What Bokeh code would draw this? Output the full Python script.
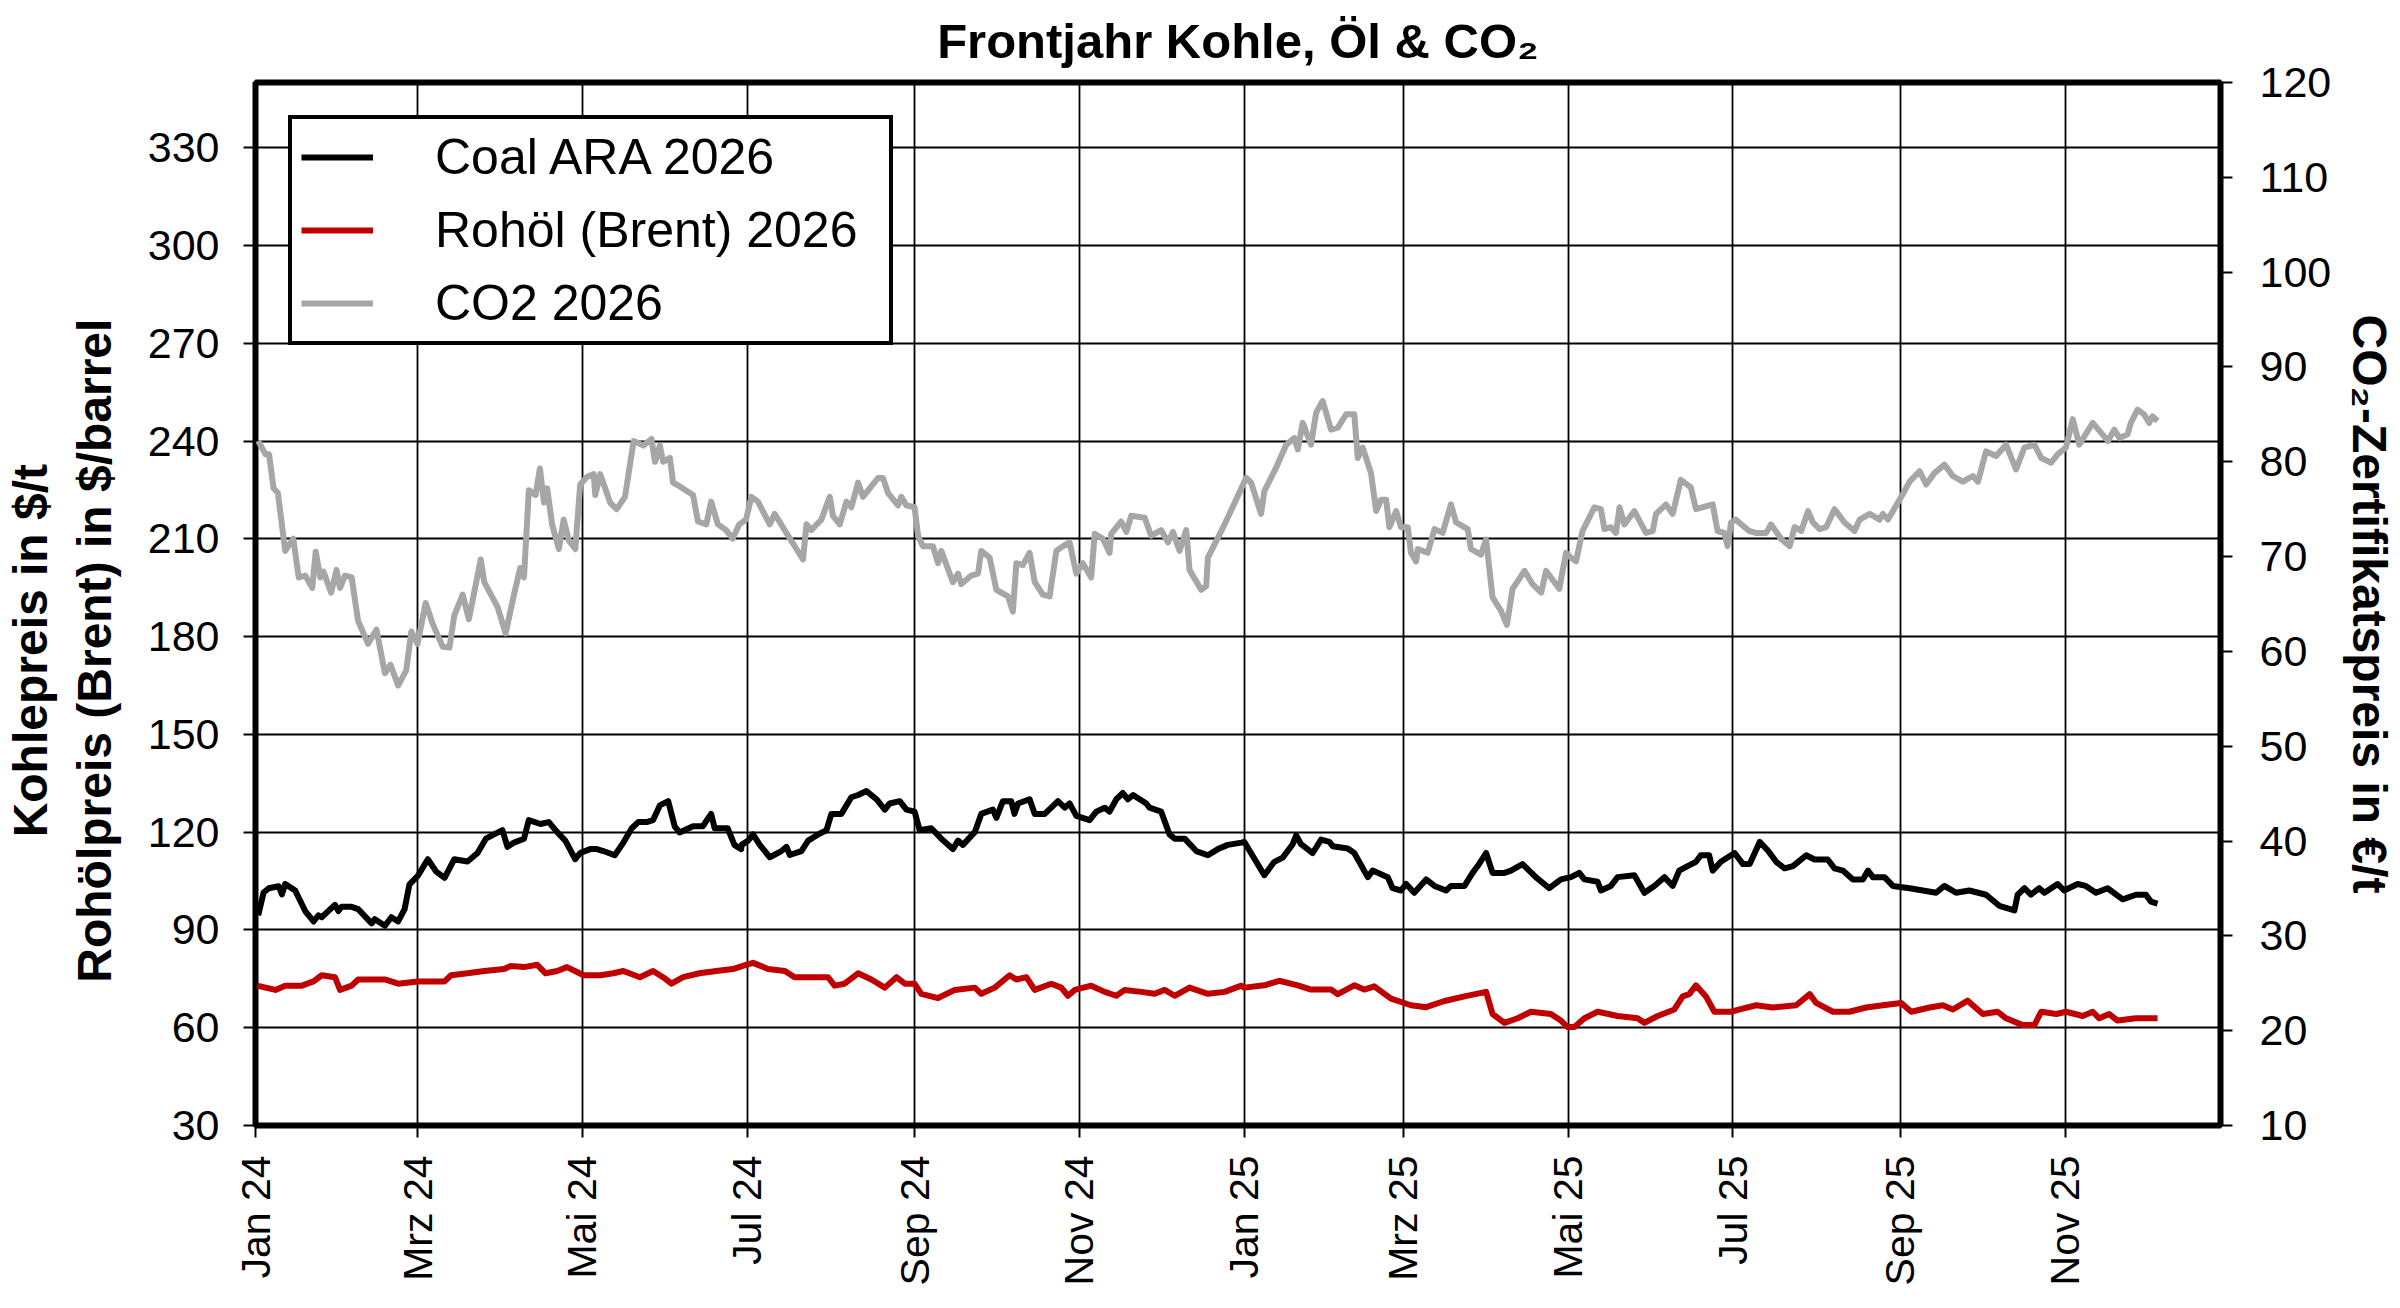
import math
import pandas as pd
from bokeh.plotting import figure
from bokeh.models import Range1d, LinearAxis, FixedTicker, Legend, LegendItem
from bokeh.embed import file_html
from bokeh.resources import INLINE

# ---------------- data ----------------
TITLE = "Frontjahr Kohle, Öl & CO₂"
START = "2024-01-01"
X_END = "2025-12-28 12:00"

tick_dates = ["2024-01-01", "2024-03-01", "2024-05-01", "2024-07-01", "2024-09-01", "2024-11-01",
              "2025-01-01", "2025-03-01", "2025-05-01", "2025-07-01", "2025-09-01", "2025-11-01"]
tick_labels = ["Jan 24", "Mrz 24", "Mai 24", "Jul 24", "Sep 24", "Nov 24",
               "Jan 25", "Mrz 25", "Mai 25", "Jul 25", "Sep 25", "Nov 25"]
left_ticks = [30, 60, 90, 120, 150, 180, 210, 240, 270, 300, 330]
right_ticks = [10, 20, 30, 40, 50, 60, 70, 80, 90, 100, 110, 120]

# days since 2024-01-01
coal_day = [1, 3, 4.9, 8.6, 9.8, 11, 14.7, 18.4, 21.5, 23.3, 24.5, 29.4, 30.7, 31.9, 35.6, 38, 43, 44.2, 47.9, 50.3,
            52.8, 55.2, 57, 60.1, 63.8, 66.9, 70, 73.6, 78.5, 82.2, 85.3, 88.3, 91.4, 93.3, 95.7, 99.4, 101.2, 105.5, 108.6, 111.7,
            114.7, 118.4, 120.2, 123.9, 126.4, 128.8, 133, 136.2, 139.3, 141.7, 144.8, 147.2, 149.7, 152.8, 155.2, 157, 162, 165.6, 168.7, 170,
            174.8, 177.3, 179.8,
            180, 182.4, 184.2, 186.7, 190.4, 194.7, 196.6, 197.8, 202.1, 204.6, 208.3, 211.4, 213.2, 216.9, 220.6, 223.1, 226.2, 229.9, 233, 234.8,
            238.5, 241, 244, 245.9, 250.2, 253.9, 258.2, 260.1, 261.9, 266.3, 268.7, 273, 274.3, 276.7, 279.8, 281, 282.3, 286.6, 288.5, 292.2,
            297.1, 299.6, 301.4, 303.9, 308.8, 311.3, 314.4, 316.2, 318.7, 321.1, 323, 324.9, 329.8, 331, 335.3, 338.4, 340.3, 344, 348.3, 352.6,
            356.3, 360, 365,
            366.1, 370.5, 373.5, 377.2, 380.3, 384, 385.3, 387.1, 391.4, 394.5, 397.6, 398.8, 404.4, 406.8, 411.8, 413.6, 419.2, 421, 424.1, 426,
            429, 433.4, 436.5, 440.8, 442.6, 447.6, 450.6, 452.5, 455.6, 458, 462.4, 464.8, 469.1, 474, 479, 483.3, 487, 490.1, 492, 496.9,
            498.1, 501.8, 504.3, 510.5, 514.2, 517.9, 521.6, 524.7, 527.1, 530.2, 533.3, 535.1, 538.2, 539.5, 542.5, 546.3,
            547.6, 550.7, 553.2, 556.9, 560, 563, 566.1, 569.2, 574.1, 577.2, 582.1, 584.6, 587.7, 591.4, 595.1, 597, 598.8, 603.1, 606.2, 612.4,
            617.3, 622.2, 625.3, 629.6, 634.5, 640.7, 645.6, 651.2, 652.4, 654.9, 657.3, 660.4, 662.3, 667.2, 669.6, 674.6, 677.6, 681.4, 685.7, 691.3,
            696.2, 699.9, 701.7, 704.2]
coal_val = [94.5, 101.5, 102.8, 103.4, 100.9, 104.1, 102.1, 95.8, 92.6, 94.5, 93.9, 97.7, 95.8, 97.1, 97.1, 96.4, 92.0, 93.3, 91.3, 93.9,
            92.6, 96.4, 104.0, 106.6, 111.7, 107.9, 106.0, 111.7, 111.0, 113.6, 118.0, 119.3, 120.6, 115.5, 116.8, 118.0, 123.7, 122.5, 123.1, 120.0,
            117.4, 111.7, 113.6, 114.8, 114.8, 114.2, 112.9, 116.8, 121.2, 123.1, 123.1, 123.7, 128.2, 129.5, 121.8, 119.9, 121.8, 121.8, 125.6, 121.2,
            121.2, 116.1, 114.8,
            116.1, 117.4, 119.3, 116.1, 112.3, 114.2, 115.5, 113.0, 114.2, 117.4, 119.3, 120.6, 125.6, 125.6, 130.7, 131.4, 132.6, 130.1, 126.9, 128.8,
            129.5, 126.9, 126.3, 120.6, 121.2, 118.0, 114.8, 117.4, 116.1, 120.0, 125.6, 126.9, 124.4, 129.5, 129.5, 125.6, 128.8, 130.1, 125.6, 125.6,
            129.5, 127.5, 128.8, 125.0, 123.7, 126.3, 127.5, 126.3, 130.1, 132.0, 130.1, 131.4, 128.8, 127.5, 126.3, 119.3, 118.0, 118.0, 114.2, 112.9,
            114.8, 116.1, 116.8,
            117.0, 110.9, 106.8, 110.9, 112.2, 116.3, 119.0, 116.3, 113.6, 117.7, 117.0, 115.7, 115.0, 113.6, 106.2, 108.2, 106.2, 102.8, 102.1, 104.1,
            101.4, 105.5, 103.5, 102.1, 103.5, 103.5, 107.5, 109.6, 113.6, 107.5, 107.5, 108.2, 110.2, 106.2, 102.8, 105.5, 106.2, 107.5, 105.5, 104.8,
            102.1, 103.5, 106.2, 106.8, 101.4, 103.5, 106.2, 103.5, 108.2, 109.6, 110.9, 112.9, 112.9, 108.2, 110.9, 112.9,
            113.6, 110.2, 110.2, 117.0, 114.3, 110.9, 108.9, 109.6, 112.9, 111.6, 111.6, 108.9, 108.2, 105.5, 105.5, 108.2, 106.2, 106.2, 103.5, 102.8,
            102.1, 101.4, 103.5, 101.4, 102.1, 100.8, 97.4, 96.0, 100.8, 102.8, 100.8, 102.8, 101.4, 104.1, 102.1, 104.1, 103.5, 101.4, 102.8, 99.4,
            100.8, 100.8, 98.7, 98.1]

oil_day = [0.6, 3.7, 7.4, 11, 17.2, 21.5, 24.5, 29.4, 31.3, 35.6, 38, 43, 47.9, 52.8, 60.1, 70, 72.4, 78.5, 84.7, 92,
           94.5, 99.4, 104.3, 107.4, 111.7, 115.3, 121.5, 127.6, 132.5, 136.2, 142.3, 147.2, 150.9, 154, 158.3, 164.4, 170.6, 176.7, 181.6,
           184.2, 189.8, 196, 199.6, 205.8, 212, 214.4, 218.1, 223.1, 228, 233, 237.3, 240.4, 244, 246.5, 252.7, 258.9, 266.3, 268.7, 273.7,
           279.2, 281.7, 285.4, 288.5, 294.6, 298.3, 300.8, 303.3, 309.4, 314.4, 318.7, 321.8, 328, 332.9, 336.6, 340.3, 345.8, 352.6, 358.8, 365,
           366.1, 373.5, 379, 385.9, 390.8, 398.2, 400.7, 406.8, 410.5, 414.2, 420.4, 427.8, 433.4, 440.2, 447.6, 455.6, 458, 462.4, 467.3, 472.2,
           479.6, 483.3, 485.8, 488.3, 492, 496.9, 504.3, 511.7, 514.2, 519.1, 525.3, 528.4, 530.8, 533.3, 537, 540.1, 546.3,
           549.5, 555.6, 561.7, 570.4, 575.4, 577.8, 584, 590.1, 596.3, 602.5, 609.3, 613, 619.8, 624.7, 628.4, 633.9, 639.5, 645, 648.1, 654.3,
           658.6, 661.1, 666.7, 670.3, 676.5, 680.2, 682.6, 686.3, 689.4, 696.2, 704.2]
oil_val = [72.9, 72.3, 71.6, 72.9, 72.9, 74.2, 76.1, 75.5, 71.6, 72.9, 74.8, 74.8, 74.8, 73.5, 74.2, 74.2, 76.1, 76.7, 77.4, 78.0,
           78.9, 78.6, 79.3, 76.7, 77.4, 78.6, 76.1, 76.1, 76.7, 77.4, 75.5, 77.4, 75.5, 73.5, 75.5, 76.7, 77.4, 78.0, 79.3,
           79.9, 78.0, 77.4, 75.5, 75.5, 75.5, 72.9, 73.5, 76.7, 74.8, 72.3, 75.5, 73.5, 73.5, 70.4, 69.1, 71.6, 72.3, 70.4, 72.3,
           76.1, 74.8, 75.5, 71.6, 73.5, 72.3, 69.8, 71.6, 72.9, 71.0, 69.8, 71.6, 71.0, 70.4, 71.6, 69.8, 72.3, 70.4, 71.0, 72.9,
           72.3, 73.0, 74.4, 73.0, 71.7, 71.7, 70.3, 73.0, 71.7, 72.7, 68.9, 66.9, 66.3, 68.2, 69.6, 71.0, 64.2, 61.5, 62.9, 64.9,
           64.2, 62.2, 60.2, 60.2, 62.9, 64.9, 63.6, 62.9, 61.5, 63.6, 65.6, 69.6, 70.3, 73.0, 69.6, 64.9, 64.9,
           65.6, 66.9, 66.2, 66.9, 70.3, 67.6, 64.9, 64.9, 66.2, 66.9, 67.6, 64.9, 66.2, 66.9, 65.6, 68.3, 64.2, 64.9, 62.9, 60.8,
           60.8, 64.9, 64.2, 64.9, 63.6, 64.9, 62.9, 64.2, 62.2, 62.9, 62.9]

co2_day = [1, 3.7, 5, 6.7, 8.3, 11, 14, 16, 18.4, 21, 22.3, 24, 25.2, 28, 30, 31.3, 33.1, 35.6, 38, 41.7,
           44.8, 47.9, 50, 52.8, 55.8, 57.7, 60, 63, 65.6, 69.3, 71.8, 73.6, 76.7, 79, 83.4, 84.7, 89.6, 92.6, 95.7, 98,
           99.4, 101.2, 103.7, 105.3, 106.8, 108, 109.8, 112.3, 114.1, 116, 118.4, 120.2, 122.7, 125.2, 125.8, 127.6, 131.3, 133.7, 136.8, 140,
           143.6, 146.6, 147.9, 149.7, 150.9, 153.4, 154.6, 157.1, 162, 163.8, 166.9, 168.7, 171.2, 174.2, 176.7, 179.1, 181.6,
           183.6, 186, 190.4, 192.2, 197.2, 202.7, 204, 205.8, 209.5, 212.6, 213.8, 216.3, 218.8, 220.6, 223.1, 224.9, 230.5, 232.3, 234.2, 237.9,
           239.1, 241, 244, 245.3, 247.1, 250.8, 252.7, 253.9, 258.2, 260.1, 261.3, 265, 267.5, 268.7, 271.8, 274.3, 278.6, 280.4, 281.7, 284.1,
           286.6, 288.5, 291.5, 294, 296.5, 299, 301.4, 303.9, 306.3, 309.4, 310.7, 313.7, 316.2, 316.8, 320.5, 322.4, 324.2, 329.2, 331.6, 335.3,
           337.8, 339.7, 342.1, 344.6, 345.8, 350.1, 352, 352.6, 358.8, 365,
           366.8, 368.6, 372.3, 373.5, 377.9, 381.6, 384.6, 385.9, 387.7, 390.8, 392.7, 395.1, 398.2, 400.7, 403.8, 406.8, 408.1, 409.9, 413, 414.9,
           416.7, 418.6, 419.8, 422.3, 424.1, 426.6, 427.8, 429.7, 430.3, 434, 436.5, 439.5, 442.6, 444.5, 448.8, 450, 453.7, 455.6, 458, 461.1,
           463.3, 465.4, 469.8, 472.8, 476, 477.8, 479.6, 482.7, 485.2, 487, 488.9, 491.3, 495.7, 498.1, 499.4, 501.8, 503.7, 505, 506.8, 510.5,
           514.8, 517.3, 518.5, 522.2, 524.7, 527.7, 531.4, 533.3, 539.5, 541.3, 543.8, 545, 546.3,
           548, 553, 555.5, 559.3, 561.1, 565, 568, 569.8, 572.3, 574.8, 576.6, 579.1, 581.5, 584.6, 588.3, 592, 593.9, 597.6, 601.3, 602.5,
           604.4, 609.3, 612.4, 616.1, 618.5, 621.6, 625.3, 628.4, 632.1, 635.8, 637.7, 640.7, 644.4, 648.1, 651.8, 654.9, 658.6, 661.1, 664.8, 667.3,
           670.3, 672.8, 675.2, 680.2, 685.8, 688.2, 690.1, 693.1, 694.3, 696.8, 699.2, 701.1, 702.3, 704.2]
co2_val = [82.2, 80.8, 80.8, 77.2, 76.7, 70.6, 71.9, 67.8, 68.0, 66.7, 70.5, 67.8, 68.4, 66.2, 68.6, 66.7, 68.0, 67.8, 63.2, 60.8,
           62.3, 57.7, 58.6, 56.4, 58.0, 62.1, 60.8, 65.1, 62.9, 60.5, 60.4, 63.8, 66.0, 63.4, 69.7, 67.3, 64.7, 61.9, 66.0, 68.8,
           67.8, 77.0, 76.5, 79.3, 75.7, 77.2, 73.4, 70.8, 73.9, 71.7, 70.8, 77.6, 78.4, 78.7, 76.5, 78.7, 75.7, 75.0, 76.3, 82.2,
           81.7, 82.4, 80.0, 81.7, 80.0, 80.4, 77.8, 77.4, 76.5, 73.7, 73.4, 75.8, 73.4, 72.8, 71.9, 73.4, 73.9,
           76.3, 75.8, 73.4, 74.5, 72.2, 69.7, 73.4, 72.8, 73.9, 76.3, 74.3, 73.4, 75.8, 75.2, 77.8, 76.3, 78.3, 78.3, 76.7, 75.4,
           76.3, 75.4, 75.2, 72.2, 71.1, 71.1, 69.3, 70.6, 67.3, 68.2, 67.1, 68.0, 68.2, 70.6, 69.9, 66.5, 65.8, 64.2, 69.3, 69.1,
           70.4, 67.3, 66.0, 65.8, 70.6, 71.1, 71.5, 68.2, 69.3, 67.8, 72.4, 71.9, 70.4, 72.4, 73.7, 72.6, 74.3, 74.1, 72.2, 72.8,
           71.5, 72.6, 70.6, 72.8, 68.6, 66.5, 66.9, 69.9, 73.4, 77.2,
           78.3, 77.8, 74.5, 76.9, 79.4, 81.8, 82.5, 81.3, 84.1, 81.8, 85.2, 86.4, 83.4, 83.6, 85.0, 85.0, 80.4, 81.5, 78.8, 74.8,
           76.0, 76.0, 73.1, 74.8, 73.1, 73.1, 70.4, 69.5, 70.8, 70.4, 72.9, 72.5, 75.5, 73.6, 72.9, 70.8, 70.2, 71.8, 65.7, 64.3,
           62.8, 66.6, 68.5, 67.1, 66.2, 68.5, 67.8, 66.6, 70.4, 69.9, 69.5, 72.7, 75.2, 75.0, 72.9, 73.1, 72.5, 75.2, 73.4, 74.8,
           72.5, 72.7, 74.5, 75.5, 74.5, 78.1, 77.3, 75.0, 75.5, 72.7, 72.5, 71.1, 73.6,
           73.9, 72.7, 72.5, 72.5, 73.4, 71.8, 71.1, 73.1, 72.7, 74.8, 73.6, 72.9, 73.1, 75.0, 73.6, 72.7, 73.9, 74.5, 73.9, 74.5,
           73.9, 76.3, 77.9, 79.0, 77.6, 78.8, 79.7, 78.5, 77.9, 78.5, 77.9, 81.1, 80.6, 81.8, 79.2, 81.5, 81.8, 80.4, 79.9, 80.8,
           81.5, 84.5, 81.8, 84.1, 82.2, 83.4, 82.5, 82.9, 84.1, 85.5, 85.0, 84.1, 84.8, 84.3]

# ---------------- helpers ----------------
t0 = pd.Timestamp(START)


def to_dt(days):
    return t0 + pd.to_timedelta(days, unit="D")


def to_ms(ts):
    return int(pd.Timestamp(ts).value // 10**6)


tick_ms = [to_ms(d) for d in tick_dates]

FONT = "Liberation Sans"
W, H = 2400, 1308
B_LEFT, B_RIGHT, B_TOP, B_BOTTOM = 255, 180, 82, 183
NB = "\u00a0" * 7   # keeps the rotated left label centred a little below the middle, as in the original

p = figure(width=W, height=H,
           x_axis_type="datetime",
           x_range=Range1d(pd.Timestamp(START), pd.Timestamp(X_END)),
           y_range=Range1d(30, 350),
           output_backend="svg", toolbar_location=None,
           min_border_left=B_LEFT, min_border_right=B_RIGHT, min_border_top=B_TOP, min_border_bottom=B_BOTTOM,
           background_fill_color="white", border_fill_color="white")
p.extra_y_ranges = {"co2": Range1d(10, 120)}

p.title.text = TITLE
p.title.text_font = FONT
p.title.text_font_size = "49px"
p.title.text_font_style = "bold"
p.title.text_color = "black"
p.title.align = "center"
p.title.vertical_align = "top"
p.title.standoff = 26

p.outline_line_color = "black"
p.outline_line_width = 6
p.outline_line_alpha = 1

# grids
p.xgrid.ticker = FixedTicker(ticks=tick_ms)
p.ygrid.ticker = FixedTicker(ticks=left_ticks)
for g in (p.xgrid, p.ygrid):
    g.grid_line_color = "black"
    g.grid_line_width = 1.8
    g.grid_line_alpha = 1

# x axis
xa = p.xaxis[0]
xa.ticker = FixedTicker(ticks=tick_ms)
xa.major_label_overrides = {ms: lab for ms, lab in zip(tick_ms, tick_labels)}
xa.major_label_orientation = math.pi / 2
xa.major_label_standoff = 18

# left axis
ya = p.yaxis[0]
ya.ticker = FixedTicker(ticks=left_ticks)
ya.axis_label = "Kohlepreis in $/t" + NB + "\nRohölpreis (Brent) in $/barrel" + NB
ya.major_label_standoff = 24
ya.axis_label_standoff = 24

# right axis
ra = LinearAxis(y_range_name="co2", ticker=FixedTicker(ticks=right_ticks),
                axis_label="CO₂-Zertifikatspreis in €/t")
ra.major_label_standoff = 27
ra.axis_label_standoff = 9
p.add_layout(ra, "right")

for ax in (xa, ya, ra):
    ax.axis_line_color = None
    ax.major_tick_line_color = "black"
    ax.major_tick_line_width = 2
    ax.major_tick_in = 0
    ax.major_tick_out = 12
    ax.minor_tick_line_color = None
    ax.major_label_text_font = FONT
    ax.major_label_text_font_size = "43px"
    ax.major_label_text_color = "black"
    ax.axis_label_text_font = FONT
    ax.axis_label_text_font_size = "48px"
    ax.axis_label_text_font_style = "bold"
    ax.axis_label_text_color = "black"
xa.major_label_text_font_size = "41px"

# series
r_co2 = p.line(to_dt(co2_day), co2_val, y_range_name="co2", line_color="#A6A6A6", line_width=6, line_join="round")
r_oil = p.line(to_dt(oil_day), oil_val, line_color="#C00000", line_width=6, line_join="round")
r_coal = p.line(to_dt(coal_day), coal_val, line_color="black", line_width=6, line_join="round")

legend = Legend(items=[LegendItem(label="Coal ARA 2026", renderers=[r_coal]),
                       LegendItem(label="Rohöl (Brent) 2026", renderers=[r_oil]),
                       LegendItem(label="CO2 2026", renderers=[r_co2])],
                location="top_left", margin=33, padding=9, spacing=15,
                glyph_width=72, glyph_height=40, label_standoff=62, label_width=445,
                label_text_font=FONT, label_text_font_size="50px", label_text_color="black",
                border_line_color="black", border_line_width=4, border_line_alpha=1,
                background_fill_color="white", background_fill_alpha=1)
p.add_layout(legend)

open("out.html", "w").write(file_html(p, INLINE))
